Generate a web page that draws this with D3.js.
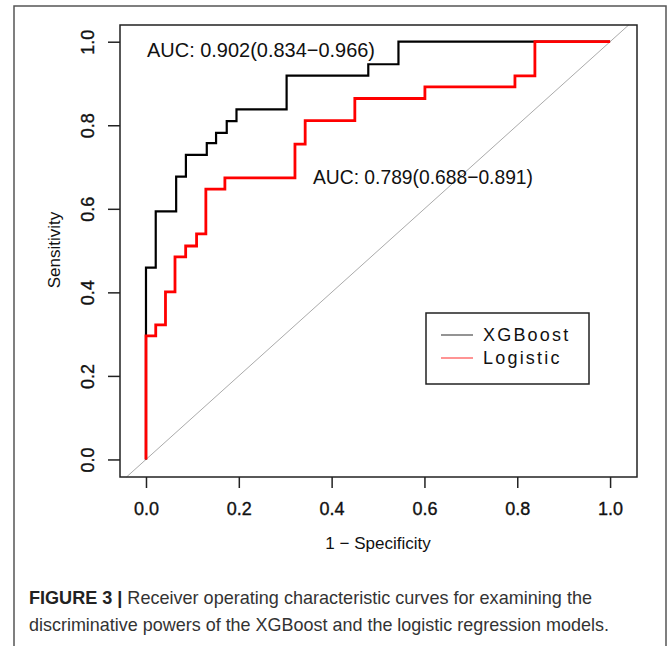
<!DOCTYPE html>
<html>
<head>
<meta charset="utf-8">
<script src="https://cdn.jsdelivr.net/npm/d3@7"></script>
<style>
  body { margin: 0; background: #fff; }
  text { font-family: "Liberation Sans", Arial, sans-serif; }
</style>
</head>
<body>
<div id="main"></div>
<script>
// ROC step points (1 - specificity, sensitivity)
var xgbFpr = [0, 0.021, 0.065, 0.086, 0.131, 0.151, 0.174, 0.195, 0.303, 0.479, 0.544, 1.0];
var xgbTpr = [0, 0.459, 0.594, 0.677, 0.729, 0.757, 0.782, 0.810, 0.838, 0.919, 0.946, 1.0];

var logFpr = [0, 0.021, 0.042, 0.0625, 0.0855, 0.109, 0.129, 0.170, 0.321, 0.343, 0.450, 0.601, 0.795, 0.838, 1.0];
var logTpr = [0, 0.296, 0.322, 0.401, 0.485, 0.511, 0.540, 0.647, 0.674, 0.755, 0.811, 0.864, 0.892, 0.918, 1.0];

var tickVals = [0, 0.2, 0.4, 0.6, 0.8, 1.0];
var seriesNames = ["XGBoost", "Logistic"];
var seriesColors = ["#000000", "#ff0000"];
var aucLabels = ["AUC: 0.902(0.834\u22120.966)", "AUC: 0.789(0.688\u22120.891)"];

var width = 669, height = 646;

var svg = d3.select("#main").append("svg")
    .attr("width", width)
    .attr("height", height);

// outer figure frame
svg.append("rect")
    .attr("x", 14).attr("y", 6)
    .attr("width", 652).attr("height", 660)
    .attr("fill", "none")
    .attr("stroke", "#555")
    .attr("stroke-width", 1.5);

var box = { left: 120, right: 637, top: 25, bottom: 477 };

var x = d3.scaleLinear().domain([-0.056, 1.058]).range([box.left, box.right]);
var y = d3.scaleLinear().domain([-0.042, 1.04]).range([box.bottom, box.top]);

// diagonal reference line
var lo = Math.max(x.domain()[0], y.domain()[0]);
var hi = Math.min(x.domain()[1], y.domain()[1]);
svg.append("line")
    .attr("x1", x(lo)).attr("y1", y(lo))
    .attr("x2", x(hi)).attr("y2", y(hi))
    .attr("stroke", "#aaa")
    .attr("stroke-width", 1);

var line = d3.line()
    .x(d => x(d[0]))
    .y(d => y(d[1]))
    .curve(d3.curveStepBefore);

var xgb = xgbFpr.map((v, i) => [v, xgbTpr[i]]);
var logi = logFpr.map((v, i) => [v, logTpr[i]]);

svg.append("path")
    .datum(xgb)
    .attr("d", line)
    .attr("fill", "none")
    .attr("stroke", seriesColors[0])
    .attr("stroke-width", 2.2);

svg.append("path")
    .datum(logi)
    .attr("d", line)
    .attr("fill", "none")
    .attr("stroke", seriesColors[1])
    .attr("stroke-width", 2.8);

// plot box
svg.append("rect")
    .attr("x", box.left).attr("y", box.top)
    .attr("width", box.right - box.left)
    .attr("height", box.bottom - box.top)
    .attr("fill", "none")
    .attr("stroke", "#222")
    .attr("stroke-width", 1.5);

// axes
var xAxis = svg.append("g")
    .attr("transform", "translate(0," + box.bottom + ")")
    .call(d3.axisBottom(x).tickValues(tickVals).tickFormat(d3.format(".1f")).tickSize(11).tickPadding(14));
xAxis.select(".domain").remove();
xAxis.selectAll("line").attr("stroke", "#222").attr("stroke-width", 1.5);
xAxis.selectAll("text")
    .attr("font-size", 18)
    .attr("font-family", "Liberation Sans, Arial, sans-serif")
    .attr("fill", "#111")
    .attr("stroke", "#111").attr("stroke-width", 0.35);

var yAxis = svg.append("g")
    .attr("transform", "translate(" + box.left + ",0)")
    .call(d3.axisLeft(y).tickValues(tickVals).tickFormat(d3.format(".1f")).tickSize(12).tickPadding(0));
yAxis.select(".domain").remove();
yAxis.selectAll("line").attr("stroke", "#222").attr("stroke-width", 1.5);
yAxis.selectAll("text")
    .attr("x", null).attr("dy", null)
    .attr("text-anchor", "middle")
    .attr("transform", "translate(-32,0) rotate(-90)")
    .attr("dy", "0.35em")
    .attr("font-size", 18)
    .attr("font-family", "Liberation Sans, Arial, sans-serif")
    .attr("fill", "#111")
    .attr("stroke", "#111").attr("stroke-width", 0.35);

// axis titles
svg.append("text")
    .attr("x", 378).attr("y", 549)
    .attr("text-anchor", "middle")
    .attr("font-size", 17)
    .attr("fill", "#111")
    .text("1 \u2212 Specificity");

svg.append("text")
    .attr("transform", "translate(60,250) rotate(-90)")
    .attr("text-anchor", "middle")
    .attr("font-size", 17)
    .attr("fill", "#111")
    .text("Sensitivity");

// AUC annotations
svg.append("text")
    .attr("x", 147).attr("y", 57)
    .attr("font-size", 21)
    .attr("textLength", 228).attr("lengthAdjust", "spacingAndGlyphs")
    .attr("fill", "#111")
    .text(aucLabels[0]);

svg.append("text")
    .attr("x", 313).attr("y", 184)
    .attr("font-size", 21)
    .attr("textLength", 220).attr("lengthAdjust", "spacingAndGlyphs")
    .attr("fill", "#111")
    .text(aucLabels[1]);

// legend
var legend = svg.append("g");
legend.append("rect")
    .attr("x", 426).attr("y", 313)
    .attr("width", 163).attr("height", 71)
    .attr("fill", "#fff")
    .attr("stroke", "#222")
    .attr("stroke-width", 1.5);

seriesNames.forEach((name, i) => {
    var ly = 335 + i * 23;
    legend.append("line")
        .attr("x1", 441).attr("x2", 473)
        .attr("y1", ly).attr("y2", ly)
        .attr("stroke", seriesColors[i])
        .attr("stroke-opacity", 0.7)
        .attr("stroke-width", 1.2);
    legend.append("text")
        .attr("x", 483).attr("y", ly)
        .attr("dy", "0.35em")
        .attr("font-size", 18)
        .attr("letter-spacing", 2.2)
        .attr("fill", "#111")
        .text(name);
});

// caption
var cap1 = svg.append("text")
    .attr("x", 29).attr("y", 604)
    .attr("font-size", 19)
    .attr("fill", "#333")
    .attr("textLength", 563).attr("lengthAdjust", "spacingAndGlyphs");
cap1.append("tspan").attr("font-weight", "bold").attr("fill", "#222").text("FIGURE 3 | ");
cap1.append("tspan").text("Receiver operating characteristic curves for examining the");

svg.append("text")
    .attr("x", 29).attr("y", 631)
    .attr("font-size", 19)
    .attr("fill", "#333")
    .attr("textLength", 580).attr("lengthAdjust", "spacingAndGlyphs")
    .text("discriminative powers of the XGBoost and the logistic regression models.");
</script>
</body>
</html>
